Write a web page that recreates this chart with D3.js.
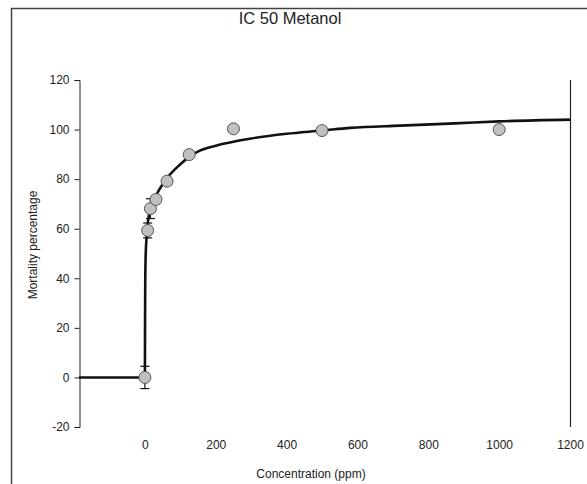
<!DOCTYPE html>
<html>
<head>
<meta charset="utf-8">
<script src="https://d3js.org/d3.v7.min.js"></script>
<style>
  body { margin: 0; background: #fff; }
  svg text { font-family: "Liberation Sans", Arial, sans-serif; fill: #222; }
</style>
</head>
<body>
<div id="chart"></div>
<script>
// measured points
var conc = [0, 7.8, 15.6, 31.25, 62.5, 125, 250, 500, 1000];
var mortality = [0, 59.3, 68.1, 71.8, 79.2, 89.9, 100.3, 99.6, 100];
var errs = [4.5, 3, 4, 1, 1.5, 1, 0, 0, 0];

// fitted curve
var curveX = [-186, 0, 0.5, 1, 2, 4, 8, 15, 30, 60, 100, 125, 155, 200, 300, 400, 500, 580, 720, 875, 1000, 1200];
var curveY = [0, 0, 25, 38, 48, 55, 62, 68, 73, 80, 86, 89, 91.5, 93.5, 96.4, 98.3, 99.6, 100.7, 101.6, 102.5, 103.3, 104];

var xTicks = [0, 200, 400, 600, 800, 1000, 1200];
var yTicks = [-20, 0, 20, 40, 60, 80, 100, 120];

var W = 587, H = 484;
var svg = d3.select("#chart").append("svg")
    .attr("width", W).attr("height", H);

// outer frame
svg.append("path")
    .attr("d", "M11.5," + H + "V8.5H" + W)
    .attr("fill", "none").attr("stroke", "#444").attr("stroke-width", 1.5);

var x = d3.scaleLinear().domain([-186, 1200]).range([79, 570]);
var y = d3.scaleLinear().domain([-20, 120]).range([427, 80]);

var fmt = function (d) { return String(d); };

// title
svg.append("text")
    .attr("x", 290).attr("y", 24)
    .attr("text-anchor", "middle")
    .style("font-size", "16.5px")
    .text("IC 50 Metanol");

// y axis
var yAxis = svg.append("g")
    .attr("transform", "translate(79.5,0)")
    .call(d3.axisLeft(y).tickValues(yTicks).tickFormat(fmt).tickSize(5).tickPadding(5));
yAxis.selectAll("text").style("font-size", "12px");
yAxis.selectAll("path, line").attr("stroke", "#222");

// x axis: labels only
var xAxis = svg.append("g")
    .attr("transform", "translate(0,435)")
    .call(d3.axisBottom(x).tickValues(xTicks).tickFormat(fmt).tickSize(0).tickPadding(5));
xAxis.select(".domain").remove();
xAxis.selectAll("text").style("font-size", "12px");

// right border line
svg.append("line")
    .attr("x1", 570.5).attr("x2", 570.5)
    .attr("y1", y(120)).attr("y2", y(-20))
    .attr("stroke", "#222").attr("stroke-width", 1.2);

// axis titles
svg.append("text")
    .attr("x", 311).attr("y", 478)
    .attr("text-anchor", "middle")
    .style("font-size", "12px")
    .text("Concentration (ppm)");

svg.append("text")
    .attr("transform", "translate(37,245) rotate(-90)")
    .attr("text-anchor", "middle")
    .style("font-size", "12px")
    .text("Mortality percentage");

// fitted curve
var curve = curveX.map(function (d, i) { return [d, curveY[i]]; });
svg.append("path")
    .datum(curve)
    .attr("fill", "none")
    .attr("stroke", "#111")
    .attr("stroke-width", 2.6)
    .attr("stroke-linejoin", "round")
    .attr("d", d3.line()
        .x(function (d) { return x(d[0]); })
        .y(function (d) { return y(d[1]); })
        .curve(d3.curveMonotoneX));

var pts = conc.map(function (d, i) { return { c: d, m: mortality[i], e: errs[i] }; });

// error bars
var eb = svg.selectAll(".eb")
    .data(pts.filter(function (d) { return d.e > 0; }))
    .enter().append("g").attr("class", "eb")
    .attr("stroke", "#111").attr("stroke-width", 1.2);
eb.append("line")
    .attr("x1", function (d) { return x(d.c); })
    .attr("x2", function (d) { return x(d.c); })
    .attr("y1", function (d) { return y(d.m - d.e); })
    .attr("y2", function (d) { return y(d.m + d.e); });
eb.append("line")
    .attr("x1", function (d) { return x(d.c) - 4.5; })
    .attr("x2", function (d) { return x(d.c) + 4.5; })
    .attr("y1", function (d) { return y(d.m - d.e); })
    .attr("y2", function (d) { return y(d.m - d.e); });
eb.append("line")
    .attr("x1", function (d) { return x(d.c) - 4.5; })
    .attr("x2", function (d) { return x(d.c) + 4.5; })
    .attr("y1", function (d) { return y(d.m + d.e); })
    .attr("y2", function (d) { return y(d.m + d.e); });

// points
svg.selectAll(".pt")
    .data(pts)
    .enter().append("circle").attr("class", "pt")
    .attr("cx", function (d) { return x(d.c); })
    .attr("cy", function (d) { return y(d.m); })
    .attr("r", 6)
    .attr("fill", "#c0c0c0")
    .attr("stroke", "#555")
    .attr("stroke-width", 1);
</script>
</body>
</html>
